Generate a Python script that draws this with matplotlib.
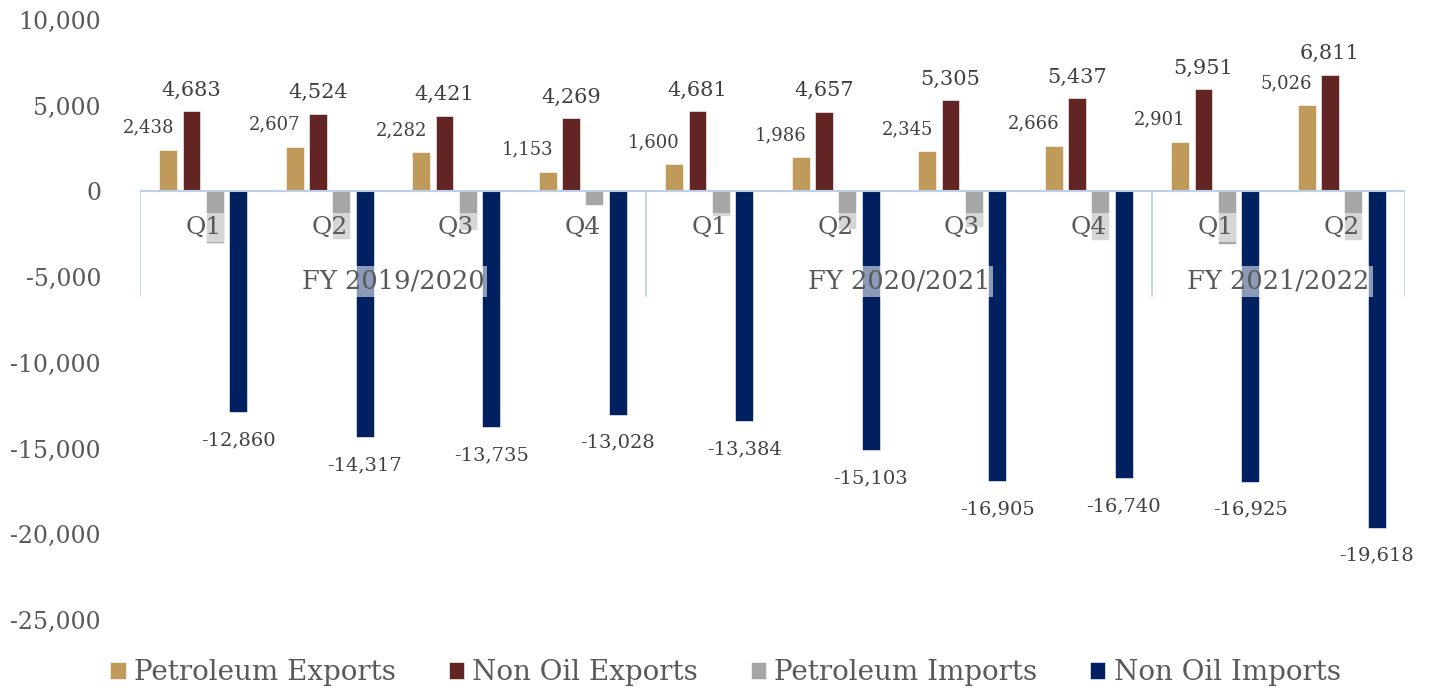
import numpy as np
import matplotlib.pyplot as plt

# values in USD million
quarters = ['Q1', 'Q2', 'Q3', 'Q4', 'Q1', 'Q2', 'Q3', 'Q4', 'Q1', 'Q2']
years = ['FY 2019/2020', 'FY 2020/2021', 'FY 2021/2022']
year_span = [(0, 3), (4, 7), (8, 9)]
pet_exp = [2438, 2607, 2282, 1153, 1600, 1986, 2345, 2666, 2901, 5026]
nonoil_exp = [4683, 4524, 4421, 4269, 4681, 4657, 5305, 5437, 5951, 6811]
pet_imp = [-3000, -2800, -2270, -800, -1450, -2200, -2100, -2850, -3080, -2850]
nonoil_imp = [-12860, -14317, -13735, -13028, -13384, -15103, -16905, -16740, -16925, -19618]

names = ['Petroleum Exports', 'Non Oil Exports', 'Petroleum Imports', 'Non Oil Imports']
colors = ['#C09A5B', '#632523', '#A6A6A6', '#002060']
series = [pet_exp, nonoil_exp, pet_imp, nonoil_imp]

txt = '#595959'
plt.rcParams['font.family'] = ['DejaVu Serif']

fig = plt.figure(figsize=(14.31, 6.94), dpi=100)
ax = fig.add_axes([0.0978, 0.1066, 0.884, 0.8646])

x = np.arange(len(quarters))
w = 0.142
step = 0.185
bars = []
for k in range(4):
    b = ax.bar(x + (k - 1.5) * step, series[k], w, color=colors[k],
               edgecolor='white', linewidth=0.4, label=names[k], zorder=2)
    bars.append(b)

# data labels
for i in range(len(x)):
    ax.annotate(f'{pet_exp[i]:,}', (x[i] - 1.5 * step, pet_exp[i]),
                xytext=(-20, 22), textcoords='offset pixels',
                ha='center', va='center', fontsize=13, color='#404040', zorder=5)
    ax.annotate(f'{nonoil_exp[i]:,}', (x[i] - 0.5 * step, nonoil_exp[i]),
                xytext=(0, 21), textcoords='offset pixels',
                ha='center', va='center', fontsize=15, color='#404040', zorder=5)
    ax.annotate(f'{nonoil_imp[i]:,}', (x[i] + 1.5 * step, nonoil_imp[i]),
                xytext=(0, -28), textcoords='offset pixels',
                ha='center', va='center', fontsize=14, color='#404040', zorder=5)

# category axis on the zero line
axc = '#BDD0EA'
ax.axhline(0, color=axc, linewidth=1.5, zorder=3)
for b in [-0.5, 3.5, 7.5, 9.5]:
    ax.plot([b, b], [0, -6100], color=axc, linewidth=1.2, zorder=3)

box = dict(boxstyle='square,pad=0.12', fc='white', ec='none', alpha=0.55)
for i, q in enumerate(quarters):
    ax.text(x[i], -2100, q, ha='center', va='center', fontsize=18,
            color=txt, bbox=box, zorder=4)
for name, (a, b) in zip(years, year_span):
    ax.text((a + b) / 2, -5250, name, ha='center', va='center', fontsize=18.5,
            color=txt, bbox=box, zorder=4)

ax.set_xlim(-0.5, 9.5)
ax.set_ylim(-25000, 10000)
ax.set_yticks(np.arange(-25000, 10001, 5000))
ax.set_yticklabels([f'{v:,}' for v in np.arange(-25000, 10001, 5000)])
ax.tick_params(axis='y', length=0, labelsize=17, labelcolor=txt, pad=28)
ax.set_xticks([])
for s in ax.spines.values():
    s.set_visible(False)

fig.legend(handles=bars, labels=names, loc='center', bbox_to_anchor=(0.507, 0.031),
           ncol=4, frameon=False, fontsize=20, labelcolor=txt,
           handlelength=0.55, handleheight=0.55, handletextpad=0.3, columnspacing=1.9)

fig.savefig('out.png', dpi=100)
